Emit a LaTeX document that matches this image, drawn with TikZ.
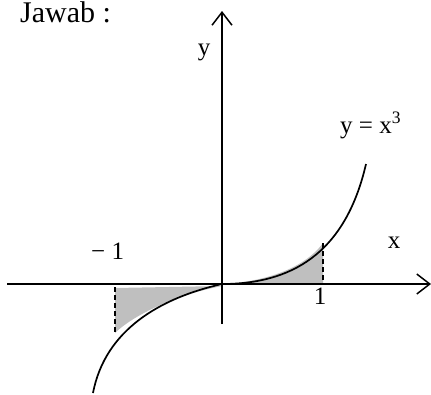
\documentclass[tikz,border=0pt]{standalone}
\usepackage{fontspec}
\setmainfont{Liberation Serif}
\usetikzlibrary{arrows.meta}
\begin{document}
\begin{tikzpicture}[x=1pt,y=-1pt,
  axis/.style={line width=1.7pt,-{Straight Barb[length=13pt,width=20pt,line width=1.5pt]}},
  curve/.style={line width=1.7pt},
  shade/.style={fill=black!25,draw=none},
  guide/.style={line width=1.4pt,dash pattern=on 5pt off 3pt},
  lbl/.style={font=\fontsize{25}{29}\selectfont,inner sep=0pt}]
\useasboundingbox (0,0) rectangle (431,394);
\coordinate (O) at (222,284);
\coordinate (xs) at (7,284);
\coordinate (xe) at (431,284);
\coordinate (ys) at (222,324);
\coordinate (ye) at (222,11);
\coordinate (L) at (93,393);
\coordinate (R) at (366,164);
\coordinate (am) at (115,287);
\coordinate (bm) at (115,333);
\coordinate (ap) at (323,284);
\coordinate (bp) at (323,243);
% shaded areas
\fill[shade] (115,288) -- (115,333) .. controls (130,318) and (170,296) .. (222,286) -- cycle;
\fill[shade] (222,284) .. controls (265,282) and (305,268) .. (323,243) -- (323,284) -- cycle;
% axes
\draw[axis] (xs) -- (xe);
\draw[axis] (ys) -- (ye);
% curve y = x^3
\draw[curve] (L) .. controls (105,330) and (160,298) .. (O);
\draw[curve] (O) .. controls (290,284) and (345,255) .. (R);
% guides
\draw[guide] (am) -- (bm);
\draw[guide] (bp) -- (ap);
% labels
\node[lbl,font=\fontsize{30}{34}\selectfont,anchor=base west] (jawab) at (20,22) {Jawab :};
\node[lbl,anchor=base] (ylab) at (204,55) {y};
\node[lbl,anchor=base west] (flab) at (340,133) {y = x\textsuperscript{3}};
\node[lbl,anchor=base] (xlab) at (394,248) {x};
\node[lbl,anchor=base west] (mlab) at (91,259) {\textminus\ 1};
\node[lbl,anchor=base] (plab) at (320,304) {1};
\end{tikzpicture}
\end{document}
